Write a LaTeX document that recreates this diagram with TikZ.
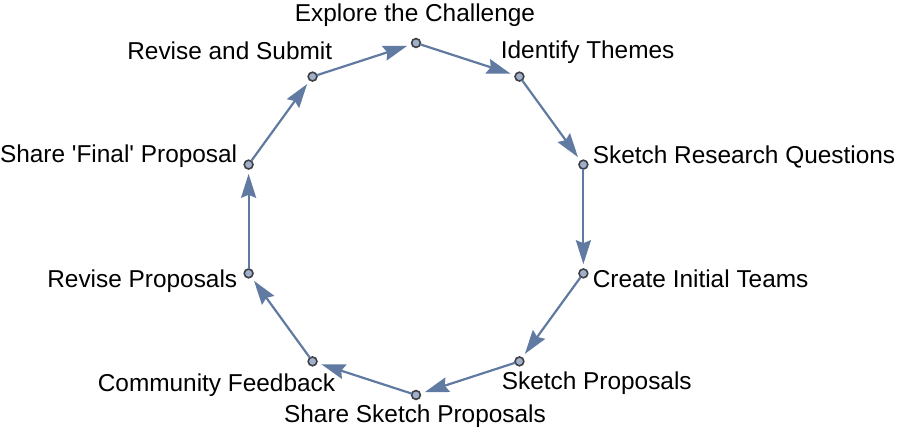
\documentclass[tikz,border=0pt]{standalone}
\usepackage{fontspec}
\setmainfont{Liberation Sans}
\usepackage{xcolor}
\usetikzlibrary{arrows.meta,positioning}
\definecolor{edgeblue}{RGB}{96,122,162}
\definecolor{vertfill}{RGB}{160,176,202}
\definecolor{vertdraw}{RGB}{64,64,68}

\begin{document}
\begin{tikzpicture}[
  x=0.5pt, y=0.5pt,
  vert/.style={circle, draw=vertdraw, fill=vertfill, line width=0.8pt, minimum size=4.4pt, inner sep=0pt, outer sep=0pt},
  lbl/.style={inner sep=0pt, font=\fontsize{12.2pt}{15pt}\selectfont},
  edge/.style={draw=edgeblue, line width=1.1pt, -{Stealth[length=12pt, width=7.5pt, inset=1.5pt]}, shorten >=2.4pt}
]
\useasboundingbox (-416,-219) rectangle (484,219);

% vertex positions on the circle
\coordinate (c1) at (90:176);
\coordinate (c2) at (54:176);
\coordinate (c3) at (18:176);
\coordinate (c4) at (-18:176);
\coordinate (c5) at (-54:176);
\coordinate (c6) at (-90:176);
\coordinate (c7) at (-126:176);
\coordinate (c8) at (-162:176);
\coordinate (c9) at (162:176);
\coordinate (c10) at (126:176);

\node[vert] (v1) at (c1) {};
\node[vert] (v2) at (c2) {};
\node[vert] (v3) at (c3) {};
\node[vert] (v4) at (c4) {};
\node[vert] (v5) at (c5) {};
\node[vert] (v6) at (c6) {};
\node[vert] (v7) at (c7) {};
\node[vert] (v8) at (c8) {};
\node[vert] (v9) at (c9) {};
\node[vert] (v10) at (c10) {};

\draw[edge] (v1) -- (v2);
\draw[edge] (v2) -- (v3);
\draw[edge] (v3) -- (v4);
\draw[edge] (v4) -- (v5);
\draw[edge] (v5) -- (v6);
\draw[edge] (v6) -- (v7);
\draw[edge] (v7) -- (v8);
\draw[edge] (v8) -- (v9);
\draw[edge] (v9) -- (v10);
\draw[edge] (v10) -- (v1);

% labels
\node[lbl, anchor=base] (t1) at ([shift={(-1,21)}]v1.center) {Explore the Challenge};
\node[lbl, anchor=base west] (t2) at ([shift={(-19,18)}]v2.center) {Identify Themes};
\node[lbl, anchor=base west] (t3) at ([shift={(9,1)}]v3.center) {Sketch Research Questions};
\node[lbl, anchor=base west] (t4) at ([shift={(9,-14)}]v4.center) {Create Initial Teams};
\node[lbl, anchor=base west] (t5) at ([shift={(-18,-28)}]v5.center) {Sketch Proposals};
\node[lbl, anchor=base] (t6) at ([shift={(-1,-28)}]v6.center) {Share Sketch Proposals};
\node[lbl, anchor=base east] (t7) at ([shift={(23,-30)}]v7.center) {Community Feedback};
\node[lbl, anchor=base east] (t8) at ([shift={(-11,-14)}]v8.center) {Revise Proposals};
\node[lbl, anchor=base east] (t9) at ([shift={(-11,2)}]v9.center) {Share \textquotesingle Final\textquotesingle{} Proposal};
\node[lbl, anchor=base east] (t10) at ([shift={(20,17)}]v10.center) {Revise and Submit};
\end{tikzpicture}
\end{document}
